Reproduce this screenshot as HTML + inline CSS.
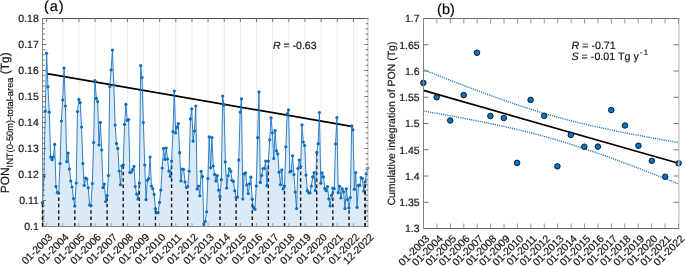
<!DOCTYPE html>
<html><head><meta charset="utf-8"><style>
html,body{margin:0;padding:0;background:#fff;width:685px;height:266px;overflow:hidden}
svg{will-change:transform;text-rendering:geometricPrecision}
text{stroke:#141414;stroke-width:0.18px}
</style></head><body>
<svg width="685" height="266" viewBox="0 0 685 266" style="display:block">
<rect width="685" height="266" fill="#fff"/>
<line x1="46.60" y1="18.5" x2="46.60" y2="226.5" stroke="#e9e9e9" stroke-width="0.9"/>
<line x1="62.75" y1="18.5" x2="62.75" y2="226.5" stroke="#e9e9e9" stroke-width="0.9"/>
<line x1="78.90" y1="18.5" x2="78.90" y2="226.5" stroke="#e9e9e9" stroke-width="0.9"/>
<line x1="95.05" y1="18.5" x2="95.05" y2="226.5" stroke="#e9e9e9" stroke-width="0.9"/>
<line x1="111.20" y1="18.5" x2="111.20" y2="226.5" stroke="#e9e9e9" stroke-width="0.9"/>
<line x1="127.35" y1="18.5" x2="127.35" y2="226.5" stroke="#e9e9e9" stroke-width="0.9"/>
<line x1="143.50" y1="18.5" x2="143.50" y2="226.5" stroke="#e9e9e9" stroke-width="0.9"/>
<line x1="159.65" y1="18.5" x2="159.65" y2="226.5" stroke="#e9e9e9" stroke-width="0.9"/>
<line x1="175.80" y1="18.5" x2="175.80" y2="226.5" stroke="#e9e9e9" stroke-width="0.9"/>
<line x1="191.95" y1="18.5" x2="191.95" y2="226.5" stroke="#e9e9e9" stroke-width="0.9"/>
<line x1="208.10" y1="18.5" x2="208.10" y2="226.5" stroke="#e9e9e9" stroke-width="0.9"/>
<line x1="224.25" y1="18.5" x2="224.25" y2="226.5" stroke="#e9e9e9" stroke-width="0.9"/>
<line x1="240.40" y1="18.5" x2="240.40" y2="226.5" stroke="#e9e9e9" stroke-width="0.9"/>
<line x1="256.55" y1="18.5" x2="256.55" y2="226.5" stroke="#e9e9e9" stroke-width="0.9"/>
<line x1="272.70" y1="18.5" x2="272.70" y2="226.5" stroke="#e9e9e9" stroke-width="0.9"/>
<line x1="288.85" y1="18.5" x2="288.85" y2="226.5" stroke="#e9e9e9" stroke-width="0.9"/>
<line x1="305.00" y1="18.5" x2="305.00" y2="226.5" stroke="#e9e9e9" stroke-width="0.9"/>
<line x1="321.15" y1="18.5" x2="321.15" y2="226.5" stroke="#e9e9e9" stroke-width="0.9"/>
<line x1="337.30" y1="18.5" x2="337.30" y2="226.5" stroke="#e9e9e9" stroke-width="0.9"/>
<line x1="353.45" y1="18.5" x2="353.45" y2="226.5" stroke="#e9e9e9" stroke-width="0.9"/>
<polygon points="42.57,226.5 42.57,202.60 43.91,176.50 45.26,111.00 46.60,53.30 47.94,86.80 49.29,112.20 50.63,157.00 51.98,159.60 53.32,157.00 54.66,144.40 56.01,186.60 57.35,192.60 58.70,193.00 60.04,163.60 61.38,121.00 62.73,100.00 64.07,68.00 65.42,106.00 66.76,161.60 68.10,153.00 69.45,169.00 70.79,181.00 72.14,187.00 73.48,198.60 74.82,206.00 76.17,183.00 77.51,111.60 78.86,99.40 80.20,102.60 81.54,127.00 82.89,163.60 84.23,185.30 85.58,178.00 86.92,179.00 88.26,187.80 89.61,205.00 90.95,205.60 92.30,183.60 93.64,142.40 94.98,80.60 96.33,98.40 97.67,101.60 99.02,145.00 100.36,122.40 101.70,150.00 103.05,187.60 104.39,184.00 105.74,201.60 107.08,195.60 108.42,175.60 109.77,86.60 111.11,70.00 112.46,50.00 113.80,85.00 115.14,125.00 116.49,143.60 117.83,148.40 119.18,171.00 120.52,184.70 121.86,166.00 123.21,165.00 124.55,124.40 125.90,104.40 127.24,120.40 128.58,119.60 129.93,172.40 131.27,172.00 132.62,169.60 133.96,166.40 135.30,186.50 136.65,194.00 137.99,199.00 139.34,183.00 140.68,65.60 142.02,77.60 143.37,122.60 144.71,165.00 146.06,199.60 147.40,180.30 148.74,178.60 150.09,157.00 151.43,186.00 152.78,188.70 154.12,194.40 155.46,208.60 156.81,213.00 158.15,212.60 159.50,202.40 160.84,190.00 162.18,168.00 163.53,148.40 164.87,159.40 166.22,148.00 167.56,159.00 168.90,171.00 170.25,176.40 171.59,161.00 172.94,131.60 174.28,91.00 175.62,133.00 176.97,127.20 178.31,123.70 179.66,152.70 181.00,181.00 182.34,169.00 183.69,169.50 185.03,182.00 186.38,187.50 187.72,186.50 189.06,171.20 190.41,118.90 191.75,108.90 193.10,141.10 194.44,131.00 195.78,106.00 197.13,189.00 198.47,186.00 199.82,195.80 201.16,171.30 202.50,176.70 203.85,224.00 205.19,221.50 206.54,211.80 207.88,178.60 209.22,136.80 210.57,167.80 211.91,137.50 213.26,166.00 214.60,174.40 215.94,180.90 217.29,175.60 218.63,190.20 219.98,196.40 221.32,179.70 222.66,96.00 224.01,105.00 225.35,161.80 226.70,188.10 228.04,175.60 229.38,168.80 230.73,171.30 232.07,180.30 233.42,181.40 234.76,190.80 236.10,197.50 237.45,197.10 238.79,159.90 240.14,112.00 241.48,98.90 242.82,199.00 244.17,173.80 245.51,172.90 246.86,184.90 248.20,193.60 249.54,183.80 250.89,177.20 252.23,199.20 253.58,207.70 254.92,209.30 256.26,186.00 257.61,137.70 258.95,91.90 260.30,182.40 261.64,175.30 262.98,168.60 264.33,168.50 265.67,161.00 267.02,185.70 268.36,161.00 269.70,139.80 271.05,117.80 272.39,132.80 273.74,158.50 275.08,130.70 276.42,150.80 277.77,153.80 279.11,172.20 280.46,184.60 281.80,169.90 283.14,188.90 284.49,186.10 285.83,146.80 287.18,113.80 288.52,109.90 289.86,172.00 291.21,171.00 292.55,155.80 293.90,174.50 295.24,192.00 296.58,208.60 297.93,168.60 299.27,160.00 300.62,166.60 301.96,124.90 303.30,142.00 304.65,145.50 305.99,175.10 307.34,190.70 308.68,192.80 310.02,192.80 311.37,186.00 312.71,176.90 314.06,172.50 315.40,190.50 316.74,152.40 318.09,143.70 319.43,112.50 320.78,183.20 322.12,172.90 323.46,176.80 324.81,188.60 326.15,190.70 327.50,186.70 328.84,198.80 330.18,205.90 331.53,195.40 332.87,188.20 334.22,188.70 335.56,143.90 336.90,117.60 338.25,192.70 339.59,186.30 340.94,198.00 342.28,188.90 343.62,191.80 344.97,208.60 346.31,188.90 347.66,199.50 349.00,207.90 350.34,197.50 351.69,125.80 353.03,129.80 354.38,189.30 355.72,172.50 357.06,207.30 358.41,185.40 359.75,185.40 361.10,177.50 362.44,178.60 363.78,191.00 365.13,181.80 366.47,173.70 367.82,168.00 367.82,226.5" fill="#dce9f7" stroke="none"/>
<line x1="42.57" y1="226.5" x2="42.57" y2="202.60" stroke="#111" stroke-width="1.4" stroke-dasharray="3.5,2.9"/>
<line x1="58.70" y1="226.5" x2="58.70" y2="193.00" stroke="#111" stroke-width="1.4" stroke-dasharray="3.5,2.9"/>
<line x1="74.82" y1="226.5" x2="74.82" y2="206.00" stroke="#111" stroke-width="1.4" stroke-dasharray="3.5,2.9"/>
<line x1="90.95" y1="226.5" x2="90.95" y2="205.60" stroke="#111" stroke-width="1.4" stroke-dasharray="3.5,2.9"/>
<line x1="107.08" y1="226.5" x2="107.08" y2="195.60" stroke="#111" stroke-width="1.4" stroke-dasharray="3.5,2.9"/>
<line x1="123.21" y1="226.5" x2="123.21" y2="165.00" stroke="#111" stroke-width="1.4" stroke-dasharray="3.5,2.9"/>
<line x1="139.34" y1="226.5" x2="139.34" y2="183.00" stroke="#111" stroke-width="1.4" stroke-dasharray="3.5,2.9"/>
<line x1="155.46" y1="226.5" x2="155.46" y2="208.60" stroke="#111" stroke-width="1.4" stroke-dasharray="3.5,2.9"/>
<line x1="171.59" y1="226.5" x2="171.59" y2="161.00" stroke="#111" stroke-width="1.4" stroke-dasharray="3.5,2.9"/>
<line x1="187.72" y1="226.5" x2="187.72" y2="186.50" stroke="#111" stroke-width="1.4" stroke-dasharray="3.5,2.9"/>
<line x1="203.85" y1="226.5" x2="203.85" y2="224.00" stroke="#111" stroke-width="1.4" stroke-dasharray="3.5,2.9"/>
<line x1="219.98" y1="226.5" x2="219.98" y2="196.40" stroke="#111" stroke-width="1.4" stroke-dasharray="3.5,2.9"/>
<line x1="236.10" y1="226.5" x2="236.10" y2="197.50" stroke="#111" stroke-width="1.4" stroke-dasharray="3.5,2.9"/>
<line x1="252.23" y1="226.5" x2="252.23" y2="199.20" stroke="#111" stroke-width="1.4" stroke-dasharray="3.5,2.9"/>
<line x1="268.36" y1="226.5" x2="268.36" y2="161.00" stroke="#111" stroke-width="1.4" stroke-dasharray="3.5,2.9"/>
<line x1="284.49" y1="226.5" x2="284.49" y2="186.10" stroke="#111" stroke-width="1.4" stroke-dasharray="3.5,2.9"/>
<line x1="300.62" y1="226.5" x2="300.62" y2="166.60" stroke="#111" stroke-width="1.4" stroke-dasharray="3.5,2.9"/>
<line x1="316.74" y1="226.5" x2="316.74" y2="152.40" stroke="#111" stroke-width="1.4" stroke-dasharray="3.5,2.9"/>
<line x1="332.87" y1="226.5" x2="332.87" y2="188.20" stroke="#111" stroke-width="1.4" stroke-dasharray="3.5,2.9"/>
<line x1="349.00" y1="226.5" x2="349.00" y2="207.90" stroke="#111" stroke-width="1.4" stroke-dasharray="3.5,2.9"/>
<line x1="365.13" y1="226.5" x2="365.13" y2="181.80" stroke="#111" stroke-width="1.4" stroke-dasharray="3.5,2.9"/>
<line x1="47" y1="73.7" x2="353" y2="126.6" stroke="#000" stroke-width="1.7"/>
<polyline points="42.57,202.60 43.91,176.50 45.26,111.00 46.60,53.30 47.94,86.80 49.29,112.20 50.63,157.00 51.98,159.60 53.32,157.00 54.66,144.40 56.01,186.60 57.35,192.60 58.70,193.00 60.04,163.60 61.38,121.00 62.73,100.00 64.07,68.00 65.42,106.00 66.76,161.60 68.10,153.00 69.45,169.00 70.79,181.00 72.14,187.00 73.48,198.60 74.82,206.00 76.17,183.00 77.51,111.60 78.86,99.40 80.20,102.60 81.54,127.00 82.89,163.60 84.23,185.30 85.58,178.00 86.92,179.00 88.26,187.80 89.61,205.00 90.95,205.60 92.30,183.60 93.64,142.40 94.98,80.60 96.33,98.40 97.67,101.60 99.02,145.00 100.36,122.40 101.70,150.00 103.05,187.60 104.39,184.00 105.74,201.60 107.08,195.60 108.42,175.60 109.77,86.60 111.11,70.00 112.46,50.00 113.80,85.00 115.14,125.00 116.49,143.60 117.83,148.40 119.18,171.00 120.52,184.70 121.86,166.00 123.21,165.00 124.55,124.40 125.90,104.40 127.24,120.40 128.58,119.60 129.93,172.40 131.27,172.00 132.62,169.60 133.96,166.40 135.30,186.50 136.65,194.00 137.99,199.00 139.34,183.00 140.68,65.60 142.02,77.60 143.37,122.60 144.71,165.00 146.06,199.60 147.40,180.30 148.74,178.60 150.09,157.00 151.43,186.00 152.78,188.70 154.12,194.40 155.46,208.60 156.81,213.00 158.15,212.60 159.50,202.40 160.84,190.00 162.18,168.00 163.53,148.40 164.87,159.40 166.22,148.00 167.56,159.00 168.90,171.00 170.25,176.40 171.59,161.00 172.94,131.60 174.28,91.00 175.62,133.00 176.97,127.20 178.31,123.70 179.66,152.70 181.00,181.00 182.34,169.00 183.69,169.50 185.03,182.00 186.38,187.50 187.72,186.50 189.06,171.20 190.41,118.90 191.75,108.90 193.10,141.10 194.44,131.00 195.78,106.00 197.13,189.00 198.47,186.00 199.82,195.80 201.16,171.30 202.50,176.70 203.85,224.00 205.19,221.50 206.54,211.80 207.88,178.60 209.22,136.80 210.57,167.80 211.91,137.50 213.26,166.00 214.60,174.40 215.94,180.90 217.29,175.60 218.63,190.20 219.98,196.40 221.32,179.70 222.66,96.00 224.01,105.00 225.35,161.80 226.70,188.10 228.04,175.60 229.38,168.80 230.73,171.30 232.07,180.30 233.42,181.40 234.76,190.80 236.10,197.50 237.45,197.10 238.79,159.90 240.14,112.00 241.48,98.90 242.82,199.00 244.17,173.80 245.51,172.90 246.86,184.90 248.20,193.60 249.54,183.80 250.89,177.20 252.23,199.20 253.58,207.70 254.92,209.30 256.26,186.00 257.61,137.70 258.95,91.90 260.30,182.40 261.64,175.30 262.98,168.60 264.33,168.50 265.67,161.00 267.02,185.70 268.36,161.00 269.70,139.80 271.05,117.80 272.39,132.80 273.74,158.50 275.08,130.70 276.42,150.80 277.77,153.80 279.11,172.20 280.46,184.60 281.80,169.90 283.14,188.90 284.49,186.10 285.83,146.80 287.18,113.80 288.52,109.90 289.86,172.00 291.21,171.00 292.55,155.80 293.90,174.50 295.24,192.00 296.58,208.60 297.93,168.60 299.27,160.00 300.62,166.60 301.96,124.90 303.30,142.00 304.65,145.50 305.99,175.10 307.34,190.70 308.68,192.80 310.02,192.80 311.37,186.00 312.71,176.90 314.06,172.50 315.40,190.50 316.74,152.40 318.09,143.70 319.43,112.50 320.78,183.20 322.12,172.90 323.46,176.80 324.81,188.60 326.15,190.70 327.50,186.70 328.84,198.80 330.18,205.90 331.53,195.40 332.87,188.20 334.22,188.70 335.56,143.90 336.90,117.60 338.25,192.70 339.59,186.30 340.94,198.00 342.28,188.90 343.62,191.80 344.97,208.60 346.31,188.90 347.66,199.50 349.00,207.90 350.34,197.50 351.69,125.80 353.03,129.80 354.38,189.30 355.72,172.50 357.06,207.30 358.41,185.40 359.75,185.40 361.10,177.50 362.44,178.60 363.78,191.00 365.13,181.80 366.47,173.70 367.82,168.00" fill="none" stroke="#1a74c0" stroke-width="0.9" stroke-linejoin="round"/>
<circle cx="42.57" cy="202.60" r="1.6" fill="#0b6fbd"/>
<circle cx="43.91" cy="176.50" r="1.6" fill="#0b6fbd"/>
<circle cx="45.26" cy="111.00" r="1.6" fill="#0b6fbd"/>
<circle cx="46.60" cy="53.30" r="1.6" fill="#0b6fbd"/>
<circle cx="47.94" cy="86.80" r="1.6" fill="#0b6fbd"/>
<circle cx="49.29" cy="112.20" r="1.6" fill="#0b6fbd"/>
<circle cx="50.63" cy="157.00" r="1.6" fill="#0b6fbd"/>
<circle cx="51.98" cy="159.60" r="1.6" fill="#0b6fbd"/>
<circle cx="53.32" cy="157.00" r="1.6" fill="#0b6fbd"/>
<circle cx="54.66" cy="144.40" r="1.6" fill="#0b6fbd"/>
<circle cx="56.01" cy="186.60" r="1.6" fill="#0b6fbd"/>
<circle cx="57.35" cy="192.60" r="1.6" fill="#0b6fbd"/>
<circle cx="58.70" cy="193.00" r="1.6" fill="#0b6fbd"/>
<circle cx="60.04" cy="163.60" r="1.6" fill="#0b6fbd"/>
<circle cx="61.38" cy="121.00" r="1.6" fill="#0b6fbd"/>
<circle cx="62.73" cy="100.00" r="1.6" fill="#0b6fbd"/>
<circle cx="64.07" cy="68.00" r="1.6" fill="#0b6fbd"/>
<circle cx="65.42" cy="106.00" r="1.6" fill="#0b6fbd"/>
<circle cx="66.76" cy="161.60" r="1.6" fill="#0b6fbd"/>
<circle cx="68.10" cy="153.00" r="1.6" fill="#0b6fbd"/>
<circle cx="69.45" cy="169.00" r="1.6" fill="#0b6fbd"/>
<circle cx="70.79" cy="181.00" r="1.6" fill="#0b6fbd"/>
<circle cx="72.14" cy="187.00" r="1.6" fill="#0b6fbd"/>
<circle cx="73.48" cy="198.60" r="1.6" fill="#0b6fbd"/>
<circle cx="74.82" cy="206.00" r="1.6" fill="#0b6fbd"/>
<circle cx="76.17" cy="183.00" r="1.6" fill="#0b6fbd"/>
<circle cx="77.51" cy="111.60" r="1.6" fill="#0b6fbd"/>
<circle cx="78.86" cy="99.40" r="1.6" fill="#0b6fbd"/>
<circle cx="80.20" cy="102.60" r="1.6" fill="#0b6fbd"/>
<circle cx="81.54" cy="127.00" r="1.6" fill="#0b6fbd"/>
<circle cx="82.89" cy="163.60" r="1.6" fill="#0b6fbd"/>
<circle cx="84.23" cy="185.30" r="1.6" fill="#0b6fbd"/>
<circle cx="85.58" cy="178.00" r="1.6" fill="#0b6fbd"/>
<circle cx="86.92" cy="179.00" r="1.6" fill="#0b6fbd"/>
<circle cx="88.26" cy="187.80" r="1.6" fill="#0b6fbd"/>
<circle cx="89.61" cy="205.00" r="1.6" fill="#0b6fbd"/>
<circle cx="90.95" cy="205.60" r="1.6" fill="#0b6fbd"/>
<circle cx="92.30" cy="183.60" r="1.6" fill="#0b6fbd"/>
<circle cx="93.64" cy="142.40" r="1.6" fill="#0b6fbd"/>
<circle cx="94.98" cy="80.60" r="1.6" fill="#0b6fbd"/>
<circle cx="96.33" cy="98.40" r="1.6" fill="#0b6fbd"/>
<circle cx="97.67" cy="101.60" r="1.6" fill="#0b6fbd"/>
<circle cx="99.02" cy="145.00" r="1.6" fill="#0b6fbd"/>
<circle cx="100.36" cy="122.40" r="1.6" fill="#0b6fbd"/>
<circle cx="101.70" cy="150.00" r="1.6" fill="#0b6fbd"/>
<circle cx="103.05" cy="187.60" r="1.6" fill="#0b6fbd"/>
<circle cx="104.39" cy="184.00" r="1.6" fill="#0b6fbd"/>
<circle cx="105.74" cy="201.60" r="1.6" fill="#0b6fbd"/>
<circle cx="107.08" cy="195.60" r="1.6" fill="#0b6fbd"/>
<circle cx="108.42" cy="175.60" r="1.6" fill="#0b6fbd"/>
<circle cx="109.77" cy="86.60" r="1.6" fill="#0b6fbd"/>
<circle cx="111.11" cy="70.00" r="1.6" fill="#0b6fbd"/>
<circle cx="112.46" cy="50.00" r="1.6" fill="#0b6fbd"/>
<circle cx="113.80" cy="85.00" r="1.6" fill="#0b6fbd"/>
<circle cx="115.14" cy="125.00" r="1.6" fill="#0b6fbd"/>
<circle cx="116.49" cy="143.60" r="1.6" fill="#0b6fbd"/>
<circle cx="117.83" cy="148.40" r="1.6" fill="#0b6fbd"/>
<circle cx="119.18" cy="171.00" r="1.6" fill="#0b6fbd"/>
<circle cx="120.52" cy="184.70" r="1.6" fill="#0b6fbd"/>
<circle cx="121.86" cy="166.00" r="1.6" fill="#0b6fbd"/>
<circle cx="123.21" cy="165.00" r="1.6" fill="#0b6fbd"/>
<circle cx="124.55" cy="124.40" r="1.6" fill="#0b6fbd"/>
<circle cx="125.90" cy="104.40" r="1.6" fill="#0b6fbd"/>
<circle cx="127.24" cy="120.40" r="1.6" fill="#0b6fbd"/>
<circle cx="128.58" cy="119.60" r="1.6" fill="#0b6fbd"/>
<circle cx="129.93" cy="172.40" r="1.6" fill="#0b6fbd"/>
<circle cx="131.27" cy="172.00" r="1.6" fill="#0b6fbd"/>
<circle cx="132.62" cy="169.60" r="1.6" fill="#0b6fbd"/>
<circle cx="133.96" cy="166.40" r="1.6" fill="#0b6fbd"/>
<circle cx="135.30" cy="186.50" r="1.6" fill="#0b6fbd"/>
<circle cx="136.65" cy="194.00" r="1.6" fill="#0b6fbd"/>
<circle cx="137.99" cy="199.00" r="1.6" fill="#0b6fbd"/>
<circle cx="139.34" cy="183.00" r="1.6" fill="#0b6fbd"/>
<circle cx="140.68" cy="65.60" r="1.6" fill="#0b6fbd"/>
<circle cx="142.02" cy="77.60" r="1.6" fill="#0b6fbd"/>
<circle cx="143.37" cy="122.60" r="1.6" fill="#0b6fbd"/>
<circle cx="144.71" cy="165.00" r="1.6" fill="#0b6fbd"/>
<circle cx="146.06" cy="199.60" r="1.6" fill="#0b6fbd"/>
<circle cx="147.40" cy="180.30" r="1.6" fill="#0b6fbd"/>
<circle cx="148.74" cy="178.60" r="1.6" fill="#0b6fbd"/>
<circle cx="150.09" cy="157.00" r="1.6" fill="#0b6fbd"/>
<circle cx="151.43" cy="186.00" r="1.6" fill="#0b6fbd"/>
<circle cx="152.78" cy="188.70" r="1.6" fill="#0b6fbd"/>
<circle cx="154.12" cy="194.40" r="1.6" fill="#0b6fbd"/>
<circle cx="155.46" cy="208.60" r="1.6" fill="#0b6fbd"/>
<circle cx="156.81" cy="213.00" r="1.6" fill="#0b6fbd"/>
<circle cx="158.15" cy="212.60" r="1.6" fill="#0b6fbd"/>
<circle cx="159.50" cy="202.40" r="1.6" fill="#0b6fbd"/>
<circle cx="160.84" cy="190.00" r="1.6" fill="#0b6fbd"/>
<circle cx="162.18" cy="168.00" r="1.6" fill="#0b6fbd"/>
<circle cx="163.53" cy="148.40" r="1.6" fill="#0b6fbd"/>
<circle cx="164.87" cy="159.40" r="1.6" fill="#0b6fbd"/>
<circle cx="166.22" cy="148.00" r="1.6" fill="#0b6fbd"/>
<circle cx="167.56" cy="159.00" r="1.6" fill="#0b6fbd"/>
<circle cx="168.90" cy="171.00" r="1.6" fill="#0b6fbd"/>
<circle cx="170.25" cy="176.40" r="1.6" fill="#0b6fbd"/>
<circle cx="171.59" cy="161.00" r="1.6" fill="#0b6fbd"/>
<circle cx="172.94" cy="131.60" r="1.6" fill="#0b6fbd"/>
<circle cx="174.28" cy="91.00" r="1.6" fill="#0b6fbd"/>
<circle cx="175.62" cy="133.00" r="1.6" fill="#0b6fbd"/>
<circle cx="176.97" cy="127.20" r="1.6" fill="#0b6fbd"/>
<circle cx="178.31" cy="123.70" r="1.6" fill="#0b6fbd"/>
<circle cx="179.66" cy="152.70" r="1.6" fill="#0b6fbd"/>
<circle cx="181.00" cy="181.00" r="1.6" fill="#0b6fbd"/>
<circle cx="182.34" cy="169.00" r="1.6" fill="#0b6fbd"/>
<circle cx="183.69" cy="169.50" r="1.6" fill="#0b6fbd"/>
<circle cx="185.03" cy="182.00" r="1.6" fill="#0b6fbd"/>
<circle cx="186.38" cy="187.50" r="1.6" fill="#0b6fbd"/>
<circle cx="187.72" cy="186.50" r="1.6" fill="#0b6fbd"/>
<circle cx="189.06" cy="171.20" r="1.6" fill="#0b6fbd"/>
<circle cx="190.41" cy="118.90" r="1.6" fill="#0b6fbd"/>
<circle cx="191.75" cy="108.90" r="1.6" fill="#0b6fbd"/>
<circle cx="193.10" cy="141.10" r="1.6" fill="#0b6fbd"/>
<circle cx="194.44" cy="131.00" r="1.6" fill="#0b6fbd"/>
<circle cx="195.78" cy="106.00" r="1.6" fill="#0b6fbd"/>
<circle cx="197.13" cy="189.00" r="1.6" fill="#0b6fbd"/>
<circle cx="198.47" cy="186.00" r="1.6" fill="#0b6fbd"/>
<circle cx="199.82" cy="195.80" r="1.6" fill="#0b6fbd"/>
<circle cx="201.16" cy="171.30" r="1.6" fill="#0b6fbd"/>
<circle cx="202.50" cy="176.70" r="1.6" fill="#0b6fbd"/>
<circle cx="203.85" cy="224.00" r="1.6" fill="#0b6fbd"/>
<circle cx="205.19" cy="221.50" r="1.6" fill="#0b6fbd"/>
<circle cx="206.54" cy="211.80" r="1.6" fill="#0b6fbd"/>
<circle cx="207.88" cy="178.60" r="1.6" fill="#0b6fbd"/>
<circle cx="209.22" cy="136.80" r="1.6" fill="#0b6fbd"/>
<circle cx="210.57" cy="167.80" r="1.6" fill="#0b6fbd"/>
<circle cx="211.91" cy="137.50" r="1.6" fill="#0b6fbd"/>
<circle cx="213.26" cy="166.00" r="1.6" fill="#0b6fbd"/>
<circle cx="214.60" cy="174.40" r="1.6" fill="#0b6fbd"/>
<circle cx="215.94" cy="180.90" r="1.6" fill="#0b6fbd"/>
<circle cx="217.29" cy="175.60" r="1.6" fill="#0b6fbd"/>
<circle cx="218.63" cy="190.20" r="1.6" fill="#0b6fbd"/>
<circle cx="219.98" cy="196.40" r="1.6" fill="#0b6fbd"/>
<circle cx="221.32" cy="179.70" r="1.6" fill="#0b6fbd"/>
<circle cx="222.66" cy="96.00" r="1.6" fill="#0b6fbd"/>
<circle cx="224.01" cy="105.00" r="1.6" fill="#0b6fbd"/>
<circle cx="225.35" cy="161.80" r="1.6" fill="#0b6fbd"/>
<circle cx="226.70" cy="188.10" r="1.6" fill="#0b6fbd"/>
<circle cx="228.04" cy="175.60" r="1.6" fill="#0b6fbd"/>
<circle cx="229.38" cy="168.80" r="1.6" fill="#0b6fbd"/>
<circle cx="230.73" cy="171.30" r="1.6" fill="#0b6fbd"/>
<circle cx="232.07" cy="180.30" r="1.6" fill="#0b6fbd"/>
<circle cx="233.42" cy="181.40" r="1.6" fill="#0b6fbd"/>
<circle cx="234.76" cy="190.80" r="1.6" fill="#0b6fbd"/>
<circle cx="236.10" cy="197.50" r="1.6" fill="#0b6fbd"/>
<circle cx="237.45" cy="197.10" r="1.6" fill="#0b6fbd"/>
<circle cx="238.79" cy="159.90" r="1.6" fill="#0b6fbd"/>
<circle cx="240.14" cy="112.00" r="1.6" fill="#0b6fbd"/>
<circle cx="241.48" cy="98.90" r="1.6" fill="#0b6fbd"/>
<circle cx="242.82" cy="199.00" r="1.6" fill="#0b6fbd"/>
<circle cx="244.17" cy="173.80" r="1.6" fill="#0b6fbd"/>
<circle cx="245.51" cy="172.90" r="1.6" fill="#0b6fbd"/>
<circle cx="246.86" cy="184.90" r="1.6" fill="#0b6fbd"/>
<circle cx="248.20" cy="193.60" r="1.6" fill="#0b6fbd"/>
<circle cx="249.54" cy="183.80" r="1.6" fill="#0b6fbd"/>
<circle cx="250.89" cy="177.20" r="1.6" fill="#0b6fbd"/>
<circle cx="252.23" cy="199.20" r="1.6" fill="#0b6fbd"/>
<circle cx="253.58" cy="207.70" r="1.6" fill="#0b6fbd"/>
<circle cx="254.92" cy="209.30" r="1.6" fill="#0b6fbd"/>
<circle cx="256.26" cy="186.00" r="1.6" fill="#0b6fbd"/>
<circle cx="257.61" cy="137.70" r="1.6" fill="#0b6fbd"/>
<circle cx="258.95" cy="91.90" r="1.6" fill="#0b6fbd"/>
<circle cx="260.30" cy="182.40" r="1.6" fill="#0b6fbd"/>
<circle cx="261.64" cy="175.30" r="1.6" fill="#0b6fbd"/>
<circle cx="262.98" cy="168.60" r="1.6" fill="#0b6fbd"/>
<circle cx="264.33" cy="168.50" r="1.6" fill="#0b6fbd"/>
<circle cx="265.67" cy="161.00" r="1.6" fill="#0b6fbd"/>
<circle cx="267.02" cy="185.70" r="1.6" fill="#0b6fbd"/>
<circle cx="268.36" cy="161.00" r="1.6" fill="#0b6fbd"/>
<circle cx="269.70" cy="139.80" r="1.6" fill="#0b6fbd"/>
<circle cx="271.05" cy="117.80" r="1.6" fill="#0b6fbd"/>
<circle cx="272.39" cy="132.80" r="1.6" fill="#0b6fbd"/>
<circle cx="273.74" cy="158.50" r="1.6" fill="#0b6fbd"/>
<circle cx="275.08" cy="130.70" r="1.6" fill="#0b6fbd"/>
<circle cx="276.42" cy="150.80" r="1.6" fill="#0b6fbd"/>
<circle cx="277.77" cy="153.80" r="1.6" fill="#0b6fbd"/>
<circle cx="279.11" cy="172.20" r="1.6" fill="#0b6fbd"/>
<circle cx="280.46" cy="184.60" r="1.6" fill="#0b6fbd"/>
<circle cx="281.80" cy="169.90" r="1.6" fill="#0b6fbd"/>
<circle cx="283.14" cy="188.90" r="1.6" fill="#0b6fbd"/>
<circle cx="284.49" cy="186.10" r="1.6" fill="#0b6fbd"/>
<circle cx="285.83" cy="146.80" r="1.6" fill="#0b6fbd"/>
<circle cx="287.18" cy="113.80" r="1.6" fill="#0b6fbd"/>
<circle cx="288.52" cy="109.90" r="1.6" fill="#0b6fbd"/>
<circle cx="289.86" cy="172.00" r="1.6" fill="#0b6fbd"/>
<circle cx="291.21" cy="171.00" r="1.6" fill="#0b6fbd"/>
<circle cx="292.55" cy="155.80" r="1.6" fill="#0b6fbd"/>
<circle cx="293.90" cy="174.50" r="1.6" fill="#0b6fbd"/>
<circle cx="295.24" cy="192.00" r="1.6" fill="#0b6fbd"/>
<circle cx="296.58" cy="208.60" r="1.6" fill="#0b6fbd"/>
<circle cx="297.93" cy="168.60" r="1.6" fill="#0b6fbd"/>
<circle cx="299.27" cy="160.00" r="1.6" fill="#0b6fbd"/>
<circle cx="300.62" cy="166.60" r="1.6" fill="#0b6fbd"/>
<circle cx="301.96" cy="124.90" r="1.6" fill="#0b6fbd"/>
<circle cx="303.30" cy="142.00" r="1.6" fill="#0b6fbd"/>
<circle cx="304.65" cy="145.50" r="1.6" fill="#0b6fbd"/>
<circle cx="305.99" cy="175.10" r="1.6" fill="#0b6fbd"/>
<circle cx="307.34" cy="190.70" r="1.6" fill="#0b6fbd"/>
<circle cx="308.68" cy="192.80" r="1.6" fill="#0b6fbd"/>
<circle cx="310.02" cy="192.80" r="1.6" fill="#0b6fbd"/>
<circle cx="311.37" cy="186.00" r="1.6" fill="#0b6fbd"/>
<circle cx="312.71" cy="176.90" r="1.6" fill="#0b6fbd"/>
<circle cx="314.06" cy="172.50" r="1.6" fill="#0b6fbd"/>
<circle cx="315.40" cy="190.50" r="1.6" fill="#0b6fbd"/>
<circle cx="316.74" cy="152.40" r="1.6" fill="#0b6fbd"/>
<circle cx="318.09" cy="143.70" r="1.6" fill="#0b6fbd"/>
<circle cx="319.43" cy="112.50" r="1.6" fill="#0b6fbd"/>
<circle cx="320.78" cy="183.20" r="1.6" fill="#0b6fbd"/>
<circle cx="322.12" cy="172.90" r="1.6" fill="#0b6fbd"/>
<circle cx="323.46" cy="176.80" r="1.6" fill="#0b6fbd"/>
<circle cx="324.81" cy="188.60" r="1.6" fill="#0b6fbd"/>
<circle cx="326.15" cy="190.70" r="1.6" fill="#0b6fbd"/>
<circle cx="327.50" cy="186.70" r="1.6" fill="#0b6fbd"/>
<circle cx="328.84" cy="198.80" r="1.6" fill="#0b6fbd"/>
<circle cx="330.18" cy="205.90" r="1.6" fill="#0b6fbd"/>
<circle cx="331.53" cy="195.40" r="1.6" fill="#0b6fbd"/>
<circle cx="332.87" cy="188.20" r="1.6" fill="#0b6fbd"/>
<circle cx="334.22" cy="188.70" r="1.6" fill="#0b6fbd"/>
<circle cx="335.56" cy="143.90" r="1.6" fill="#0b6fbd"/>
<circle cx="336.90" cy="117.60" r="1.6" fill="#0b6fbd"/>
<circle cx="338.25" cy="192.70" r="1.6" fill="#0b6fbd"/>
<circle cx="339.59" cy="186.30" r="1.6" fill="#0b6fbd"/>
<circle cx="340.94" cy="198.00" r="1.6" fill="#0b6fbd"/>
<circle cx="342.28" cy="188.90" r="1.6" fill="#0b6fbd"/>
<circle cx="343.62" cy="191.80" r="1.6" fill="#0b6fbd"/>
<circle cx="344.97" cy="208.60" r="1.6" fill="#0b6fbd"/>
<circle cx="346.31" cy="188.90" r="1.6" fill="#0b6fbd"/>
<circle cx="347.66" cy="199.50" r="1.6" fill="#0b6fbd"/>
<circle cx="349.00" cy="207.90" r="1.6" fill="#0b6fbd"/>
<circle cx="350.34" cy="197.50" r="1.6" fill="#0b6fbd"/>
<circle cx="351.69" cy="125.80" r="1.6" fill="#0b6fbd"/>
<circle cx="353.03" cy="129.80" r="1.6" fill="#0b6fbd"/>
<circle cx="354.38" cy="189.30" r="1.6" fill="#0b6fbd"/>
<circle cx="355.72" cy="172.50" r="1.6" fill="#0b6fbd"/>
<circle cx="357.06" cy="207.30" r="1.6" fill="#0b6fbd"/>
<circle cx="358.41" cy="185.40" r="1.6" fill="#0b6fbd"/>
<circle cx="359.75" cy="185.40" r="1.6" fill="#0b6fbd"/>
<circle cx="361.10" cy="177.50" r="1.6" fill="#0b6fbd"/>
<circle cx="362.44" cy="178.60" r="1.6" fill="#0b6fbd"/>
<circle cx="363.78" cy="191.00" r="1.6" fill="#0b6fbd"/>
<circle cx="365.13" cy="181.80" r="1.6" fill="#0b6fbd"/>
<circle cx="366.47" cy="173.70" r="1.6" fill="#0b6fbd"/>
<circle cx="367.82" cy="168.00" r="1.6" fill="#0b6fbd"/>
<line x1="42.0" y1="18.5" x2="368.5" y2="18.5" stroke="#505050" stroke-width="1"/>
<line x1="42.0" y1="226.5" x2="368.5" y2="226.5" stroke="#8a8a8a" stroke-width="1"/>
<line x1="42.5" y1="18.5" x2="42.5" y2="226.5" stroke="#8a8a8a" stroke-width="1"/>
<line x1="367.9" y1="18.5" x2="367.9" y2="226.5" stroke="#c4c4c4" stroke-width="1.2"/>
<line x1="42.57" y1="226.5" x2="42.57" y2="202.60" stroke="#111" stroke-width="1.4" stroke-dasharray="3.5,2.9"/>
<line x1="365.13" y1="226.5" x2="365.13" y2="181.80" stroke="#111" stroke-width="1.4" stroke-dasharray="3.5,2.9"/>
<circle cx="42.57" cy="202.60" r="1.6" fill="#0b6fbd"/>
<line x1="42.5" y1="226.50" x2="46.1" y2="226.50" stroke="#666" stroke-width="0.9"/>
<line x1="368" y1="226.50" x2="364.4" y2="226.50" stroke="#666" stroke-width="0.9"/>
<line x1="42.5" y1="221.30" x2="44.9" y2="221.30" stroke="#666" stroke-width="0.9"/>
<line x1="368" y1="221.30" x2="365.6" y2="221.30" stroke="#666" stroke-width="0.9"/>
<line x1="42.5" y1="216.10" x2="44.9" y2="216.10" stroke="#666" stroke-width="0.9"/>
<line x1="368" y1="216.10" x2="365.6" y2="216.10" stroke="#666" stroke-width="0.9"/>
<line x1="42.5" y1="210.90" x2="44.9" y2="210.90" stroke="#666" stroke-width="0.9"/>
<line x1="368" y1="210.90" x2="365.6" y2="210.90" stroke="#666" stroke-width="0.9"/>
<line x1="42.5" y1="205.70" x2="44.9" y2="205.70" stroke="#666" stroke-width="0.9"/>
<line x1="368" y1="205.70" x2="365.6" y2="205.70" stroke="#666" stroke-width="0.9"/>
<line x1="42.5" y1="200.50" x2="46.1" y2="200.50" stroke="#666" stroke-width="0.9"/>
<line x1="368" y1="200.50" x2="364.4" y2="200.50" stroke="#666" stroke-width="0.9"/>
<line x1="42.5" y1="195.30" x2="44.9" y2="195.30" stroke="#666" stroke-width="0.9"/>
<line x1="368" y1="195.30" x2="365.6" y2="195.30" stroke="#666" stroke-width="0.9"/>
<line x1="42.5" y1="190.10" x2="44.9" y2="190.10" stroke="#666" stroke-width="0.9"/>
<line x1="368" y1="190.10" x2="365.6" y2="190.10" stroke="#666" stroke-width="0.9"/>
<line x1="42.5" y1="184.90" x2="44.9" y2="184.90" stroke="#666" stroke-width="0.9"/>
<line x1="368" y1="184.90" x2="365.6" y2="184.90" stroke="#666" stroke-width="0.9"/>
<line x1="42.5" y1="179.70" x2="44.9" y2="179.70" stroke="#666" stroke-width="0.9"/>
<line x1="368" y1="179.70" x2="365.6" y2="179.70" stroke="#666" stroke-width="0.9"/>
<line x1="42.5" y1="174.50" x2="46.1" y2="174.50" stroke="#666" stroke-width="0.9"/>
<line x1="368" y1="174.50" x2="364.4" y2="174.50" stroke="#666" stroke-width="0.9"/>
<line x1="42.5" y1="169.30" x2="44.9" y2="169.30" stroke="#666" stroke-width="0.9"/>
<line x1="368" y1="169.30" x2="365.6" y2="169.30" stroke="#666" stroke-width="0.9"/>
<line x1="42.5" y1="164.10" x2="44.9" y2="164.10" stroke="#666" stroke-width="0.9"/>
<line x1="368" y1="164.10" x2="365.6" y2="164.10" stroke="#666" stroke-width="0.9"/>
<line x1="42.5" y1="158.90" x2="44.9" y2="158.90" stroke="#666" stroke-width="0.9"/>
<line x1="368" y1="158.90" x2="365.6" y2="158.90" stroke="#666" stroke-width="0.9"/>
<line x1="42.5" y1="153.70" x2="44.9" y2="153.70" stroke="#666" stroke-width="0.9"/>
<line x1="368" y1="153.70" x2="365.6" y2="153.70" stroke="#666" stroke-width="0.9"/>
<line x1="42.5" y1="148.50" x2="46.1" y2="148.50" stroke="#666" stroke-width="0.9"/>
<line x1="368" y1="148.50" x2="364.4" y2="148.50" stroke="#666" stroke-width="0.9"/>
<line x1="42.5" y1="143.30" x2="44.9" y2="143.30" stroke="#666" stroke-width="0.9"/>
<line x1="368" y1="143.30" x2="365.6" y2="143.30" stroke="#666" stroke-width="0.9"/>
<line x1="42.5" y1="138.10" x2="44.9" y2="138.10" stroke="#666" stroke-width="0.9"/>
<line x1="368" y1="138.10" x2="365.6" y2="138.10" stroke="#666" stroke-width="0.9"/>
<line x1="42.5" y1="132.90" x2="44.9" y2="132.90" stroke="#666" stroke-width="0.9"/>
<line x1="368" y1="132.90" x2="365.6" y2="132.90" stroke="#666" stroke-width="0.9"/>
<line x1="42.5" y1="127.70" x2="44.9" y2="127.70" stroke="#666" stroke-width="0.9"/>
<line x1="368" y1="127.70" x2="365.6" y2="127.70" stroke="#666" stroke-width="0.9"/>
<line x1="42.5" y1="122.50" x2="46.1" y2="122.50" stroke="#666" stroke-width="0.9"/>
<line x1="368" y1="122.50" x2="364.4" y2="122.50" stroke="#666" stroke-width="0.9"/>
<line x1="42.5" y1="117.30" x2="44.9" y2="117.30" stroke="#666" stroke-width="0.9"/>
<line x1="368" y1="117.30" x2="365.6" y2="117.30" stroke="#666" stroke-width="0.9"/>
<line x1="42.5" y1="112.10" x2="44.9" y2="112.10" stroke="#666" stroke-width="0.9"/>
<line x1="368" y1="112.10" x2="365.6" y2="112.10" stroke="#666" stroke-width="0.9"/>
<line x1="42.5" y1="106.90" x2="44.9" y2="106.90" stroke="#666" stroke-width="0.9"/>
<line x1="368" y1="106.90" x2="365.6" y2="106.90" stroke="#666" stroke-width="0.9"/>
<line x1="42.5" y1="101.70" x2="44.9" y2="101.70" stroke="#666" stroke-width="0.9"/>
<line x1="368" y1="101.70" x2="365.6" y2="101.70" stroke="#666" stroke-width="0.9"/>
<line x1="42.5" y1="96.50" x2="46.1" y2="96.50" stroke="#666" stroke-width="0.9"/>
<line x1="368" y1="96.50" x2="364.4" y2="96.50" stroke="#666" stroke-width="0.9"/>
<line x1="42.5" y1="91.30" x2="44.9" y2="91.30" stroke="#666" stroke-width="0.9"/>
<line x1="368" y1="91.30" x2="365.6" y2="91.30" stroke="#666" stroke-width="0.9"/>
<line x1="42.5" y1="86.10" x2="44.9" y2="86.10" stroke="#666" stroke-width="0.9"/>
<line x1="368" y1="86.10" x2="365.6" y2="86.10" stroke="#666" stroke-width="0.9"/>
<line x1="42.5" y1="80.90" x2="44.9" y2="80.90" stroke="#666" stroke-width="0.9"/>
<line x1="368" y1="80.90" x2="365.6" y2="80.90" stroke="#666" stroke-width="0.9"/>
<line x1="42.5" y1="75.70" x2="44.9" y2="75.70" stroke="#666" stroke-width="0.9"/>
<line x1="368" y1="75.70" x2="365.6" y2="75.70" stroke="#666" stroke-width="0.9"/>
<line x1="42.5" y1="70.50" x2="46.1" y2="70.50" stroke="#666" stroke-width="0.9"/>
<line x1="368" y1="70.50" x2="364.4" y2="70.50" stroke="#666" stroke-width="0.9"/>
<line x1="42.5" y1="65.30" x2="44.9" y2="65.30" stroke="#666" stroke-width="0.9"/>
<line x1="368" y1="65.30" x2="365.6" y2="65.30" stroke="#666" stroke-width="0.9"/>
<line x1="42.5" y1="60.10" x2="44.9" y2="60.10" stroke="#666" stroke-width="0.9"/>
<line x1="368" y1="60.10" x2="365.6" y2="60.10" stroke="#666" stroke-width="0.9"/>
<line x1="42.5" y1="54.90" x2="44.9" y2="54.90" stroke="#666" stroke-width="0.9"/>
<line x1="368" y1="54.90" x2="365.6" y2="54.90" stroke="#666" stroke-width="0.9"/>
<line x1="42.5" y1="49.70" x2="44.9" y2="49.70" stroke="#666" stroke-width="0.9"/>
<line x1="368" y1="49.70" x2="365.6" y2="49.70" stroke="#666" stroke-width="0.9"/>
<line x1="42.5" y1="44.50" x2="46.1" y2="44.50" stroke="#666" stroke-width="0.9"/>
<line x1="368" y1="44.50" x2="364.4" y2="44.50" stroke="#666" stroke-width="0.9"/>
<line x1="42.5" y1="39.30" x2="44.9" y2="39.30" stroke="#666" stroke-width="0.9"/>
<line x1="368" y1="39.30" x2="365.6" y2="39.30" stroke="#666" stroke-width="0.9"/>
<line x1="42.5" y1="34.10" x2="44.9" y2="34.10" stroke="#666" stroke-width="0.9"/>
<line x1="368" y1="34.10" x2="365.6" y2="34.10" stroke="#666" stroke-width="0.9"/>
<line x1="42.5" y1="28.90" x2="44.9" y2="28.90" stroke="#666" stroke-width="0.9"/>
<line x1="368" y1="28.90" x2="365.6" y2="28.90" stroke="#666" stroke-width="0.9"/>
<line x1="42.5" y1="23.70" x2="44.9" y2="23.70" stroke="#666" stroke-width="0.9"/>
<line x1="368" y1="23.70" x2="365.6" y2="23.70" stroke="#666" stroke-width="0.9"/>
<line x1="42.5" y1="18.50" x2="46.1" y2="18.50" stroke="#666" stroke-width="0.9"/>
<line x1="368" y1="18.50" x2="364.4" y2="18.50" stroke="#666" stroke-width="0.9"/>
<line x1="46.60" y1="18.5" x2="46.60" y2="22.0" stroke="#666" stroke-width="0.9"/>
<line x1="46.60" y1="226.5" x2="46.60" y2="223.0" stroke="#999" stroke-width="0.9"/>
<line x1="62.75" y1="18.5" x2="62.75" y2="22.0" stroke="#666" stroke-width="0.9"/>
<line x1="62.75" y1="226.5" x2="62.75" y2="223.0" stroke="#999" stroke-width="0.9"/>
<line x1="78.90" y1="18.5" x2="78.90" y2="22.0" stroke="#666" stroke-width="0.9"/>
<line x1="78.90" y1="226.5" x2="78.90" y2="223.0" stroke="#999" stroke-width="0.9"/>
<line x1="95.05" y1="18.5" x2="95.05" y2="22.0" stroke="#666" stroke-width="0.9"/>
<line x1="95.05" y1="226.5" x2="95.05" y2="223.0" stroke="#999" stroke-width="0.9"/>
<line x1="111.20" y1="18.5" x2="111.20" y2="22.0" stroke="#666" stroke-width="0.9"/>
<line x1="111.20" y1="226.5" x2="111.20" y2="223.0" stroke="#999" stroke-width="0.9"/>
<line x1="127.35" y1="18.5" x2="127.35" y2="22.0" stroke="#666" stroke-width="0.9"/>
<line x1="127.35" y1="226.5" x2="127.35" y2="223.0" stroke="#999" stroke-width="0.9"/>
<line x1="143.50" y1="18.5" x2="143.50" y2="22.0" stroke="#666" stroke-width="0.9"/>
<line x1="143.50" y1="226.5" x2="143.50" y2="223.0" stroke="#999" stroke-width="0.9"/>
<line x1="159.65" y1="18.5" x2="159.65" y2="22.0" stroke="#666" stroke-width="0.9"/>
<line x1="159.65" y1="226.5" x2="159.65" y2="223.0" stroke="#999" stroke-width="0.9"/>
<line x1="175.80" y1="18.5" x2="175.80" y2="22.0" stroke="#666" stroke-width="0.9"/>
<line x1="175.80" y1="226.5" x2="175.80" y2="223.0" stroke="#999" stroke-width="0.9"/>
<line x1="191.95" y1="18.5" x2="191.95" y2="22.0" stroke="#666" stroke-width="0.9"/>
<line x1="191.95" y1="226.5" x2="191.95" y2="223.0" stroke="#999" stroke-width="0.9"/>
<line x1="208.10" y1="18.5" x2="208.10" y2="22.0" stroke="#666" stroke-width="0.9"/>
<line x1="208.10" y1="226.5" x2="208.10" y2="223.0" stroke="#999" stroke-width="0.9"/>
<line x1="224.25" y1="18.5" x2="224.25" y2="22.0" stroke="#666" stroke-width="0.9"/>
<line x1="224.25" y1="226.5" x2="224.25" y2="223.0" stroke="#999" stroke-width="0.9"/>
<line x1="240.40" y1="18.5" x2="240.40" y2="22.0" stroke="#666" stroke-width="0.9"/>
<line x1="240.40" y1="226.5" x2="240.40" y2="223.0" stroke="#999" stroke-width="0.9"/>
<line x1="256.55" y1="18.5" x2="256.55" y2="22.0" stroke="#666" stroke-width="0.9"/>
<line x1="256.55" y1="226.5" x2="256.55" y2="223.0" stroke="#999" stroke-width="0.9"/>
<line x1="272.70" y1="18.5" x2="272.70" y2="22.0" stroke="#666" stroke-width="0.9"/>
<line x1="272.70" y1="226.5" x2="272.70" y2="223.0" stroke="#999" stroke-width="0.9"/>
<line x1="288.85" y1="18.5" x2="288.85" y2="22.0" stroke="#666" stroke-width="0.9"/>
<line x1="288.85" y1="226.5" x2="288.85" y2="223.0" stroke="#999" stroke-width="0.9"/>
<line x1="305.00" y1="18.5" x2="305.00" y2="22.0" stroke="#666" stroke-width="0.9"/>
<line x1="305.00" y1="226.5" x2="305.00" y2="223.0" stroke="#999" stroke-width="0.9"/>
<line x1="321.15" y1="18.5" x2="321.15" y2="22.0" stroke="#666" stroke-width="0.9"/>
<line x1="321.15" y1="226.5" x2="321.15" y2="223.0" stroke="#999" stroke-width="0.9"/>
<line x1="337.30" y1="18.5" x2="337.30" y2="22.0" stroke="#666" stroke-width="0.9"/>
<line x1="337.30" y1="226.5" x2="337.30" y2="223.0" stroke="#999" stroke-width="0.9"/>
<line x1="353.45" y1="18.5" x2="353.45" y2="22.0" stroke="#666" stroke-width="0.9"/>
<line x1="353.45" y1="226.5" x2="353.45" y2="223.0" stroke="#999" stroke-width="0.9"/>
<text x="38.8" y="230.30" font-family='"Liberation Sans", sans-serif' font-size="10.5" text-anchor="end" fill="#141414">0.1</text>
<text x="38.8" y="204.30" font-family='"Liberation Sans", sans-serif' font-size="10.5" text-anchor="end" fill="#141414">0.11</text>
<text x="38.8" y="178.30" font-family='"Liberation Sans", sans-serif' font-size="10.5" text-anchor="end" fill="#141414">0.12</text>
<text x="38.8" y="152.30" font-family='"Liberation Sans", sans-serif' font-size="10.5" text-anchor="end" fill="#141414">0.13</text>
<text x="38.8" y="126.30" font-family='"Liberation Sans", sans-serif' font-size="10.5" text-anchor="end" fill="#141414">0.14</text>
<text x="38.8" y="100.30" font-family='"Liberation Sans", sans-serif' font-size="10.5" text-anchor="end" fill="#141414">0.15</text>
<text x="38.8" y="74.30" font-family='"Liberation Sans", sans-serif' font-size="10.5" text-anchor="end" fill="#141414">0.16</text>
<text x="38.8" y="48.30" font-family='"Liberation Sans", sans-serif' font-size="10.5" text-anchor="end" fill="#141414">0.17</text>
<text x="38.8" y="22.30" font-family='"Liberation Sans", sans-serif' font-size="10.5" text-anchor="end" fill="#141414">0.18</text>
<text transform="translate(53.20,237.8) rotate(-45)" font-family='"Liberation Sans", sans-serif' font-size="10.5" text-anchor="end" fill="#141414">01-2003</text>
<text transform="translate(69.35,237.8) rotate(-45)" font-family='"Liberation Sans", sans-serif' font-size="10.5" text-anchor="end" fill="#141414">01-2004</text>
<text transform="translate(85.50,237.8) rotate(-45)" font-family='"Liberation Sans", sans-serif' font-size="10.5" text-anchor="end" fill="#141414">01-2005</text>
<text transform="translate(101.65,237.8) rotate(-45)" font-family='"Liberation Sans", sans-serif' font-size="10.5" text-anchor="end" fill="#141414">01-2006</text>
<text transform="translate(117.80,237.8) rotate(-45)" font-family='"Liberation Sans", sans-serif' font-size="10.5" text-anchor="end" fill="#141414">01-2007</text>
<text transform="translate(133.95,237.8) rotate(-45)" font-family='"Liberation Sans", sans-serif' font-size="10.5" text-anchor="end" fill="#141414">01-2008</text>
<text transform="translate(150.10,237.8) rotate(-45)" font-family='"Liberation Sans", sans-serif' font-size="10.5" text-anchor="end" fill="#141414">01-2009</text>
<text transform="translate(166.25,237.8) rotate(-45)" font-family='"Liberation Sans", sans-serif' font-size="10.5" text-anchor="end" fill="#141414">01-2010</text>
<text transform="translate(182.40,237.8) rotate(-45)" font-family='"Liberation Sans", sans-serif' font-size="10.5" text-anchor="end" fill="#141414">01-2011</text>
<text transform="translate(198.55,237.8) rotate(-45)" font-family='"Liberation Sans", sans-serif' font-size="10.5" text-anchor="end" fill="#141414">01-2012</text>
<text transform="translate(214.70,237.8) rotate(-45)" font-family='"Liberation Sans", sans-serif' font-size="10.5" text-anchor="end" fill="#141414">01-2013</text>
<text transform="translate(230.85,237.8) rotate(-45)" font-family='"Liberation Sans", sans-serif' font-size="10.5" text-anchor="end" fill="#141414">01-2014</text>
<text transform="translate(247.00,237.8) rotate(-45)" font-family='"Liberation Sans", sans-serif' font-size="10.5" text-anchor="end" fill="#141414">01-2015</text>
<text transform="translate(263.15,237.8) rotate(-45)" font-family='"Liberation Sans", sans-serif' font-size="10.5" text-anchor="end" fill="#141414">01-2016</text>
<text transform="translate(279.30,237.8) rotate(-45)" font-family='"Liberation Sans", sans-serif' font-size="10.5" text-anchor="end" fill="#141414">01-2017</text>
<text transform="translate(295.45,237.8) rotate(-45)" font-family='"Liberation Sans", sans-serif' font-size="10.5" text-anchor="end" fill="#141414">01-2018</text>
<text transform="translate(311.60,237.8) rotate(-45)" font-family='"Liberation Sans", sans-serif' font-size="10.5" text-anchor="end" fill="#141414">01-2019</text>
<text transform="translate(327.75,237.8) rotate(-45)" font-family='"Liberation Sans", sans-serif' font-size="10.5" text-anchor="end" fill="#141414">01-2020</text>
<text transform="translate(343.90,237.8) rotate(-45)" font-family='"Liberation Sans", sans-serif' font-size="10.5" text-anchor="end" fill="#141414">01-2021</text>
<text transform="translate(360.05,237.8) rotate(-45)" font-family='"Liberation Sans", sans-serif' font-size="10.5" text-anchor="end" fill="#141414">01-2022</text>
<text transform="translate(374.40,237.8) rotate(-45)" font-family='"Liberation Sans", sans-serif' font-size="10.5" text-anchor="end" fill="#141414">12-2022</text>
<text x="44.1" y="11.2" font-family='"Liberation Sans", sans-serif' font-size="14.6" letter-spacing="0.8" fill="#000">(a)</text>
<text x="273" y="48.5" font-family='"Liberation Sans", sans-serif' font-size="10.5" fill="#141414"><tspan font-style="italic">R</tspan> = -0.63</text>
<text transform="translate(8.9,193.3) rotate(-90)" font-family='"Liberation Sans", sans-serif' font-size="11.95" fill="#141414">PON<tspan font-size="9.3" dy="4.5">INT(0-50m)-total-area</tspan><tspan dy="-4.5"> (Tg)</tspan></text>
<polyline points="423.50,69.76 427.75,71.44 432.00,73.12 436.25,74.80 440.50,76.47 444.75,78.13 449.00,79.78 453.25,81.43 457.50,83.07 461.75,84.70 466.00,86.32 470.25,87.93 474.50,89.53 478.75,91.12 483.00,92.70 487.25,94.26 491.50,95.81 495.75,97.34 500.00,98.85 504.25,100.35 508.50,101.83 512.75,103.29 517.00,104.72 521.25,106.14 525.50,107.52 529.75,108.89 534.00,110.23 538.25,111.54 542.50,112.83 546.75,114.08 551.00,115.31 555.25,116.51 559.50,117.68 563.75,118.83 568.00,119.95 572.25,121.04 576.50,122.10 580.75,123.14 585.00,124.16 589.25,125.15 593.50,126.12 597.75,127.07 602.00,128.01 606.25,128.92 610.50,129.82 614.75,130.70 619.00,131.57 623.25,132.42 627.50,133.26 631.75,134.09 636.00,134.91 640.25,135.72 644.50,136.52 648.75,137.31 653.00,138.09 657.25,138.86 661.50,139.63 665.75,140.39 670.00,141.15 674.25,141.89 678.50,142.64" fill="none" stroke="#0a72c2" stroke-width="1.4" stroke-dasharray="1.1,1.1"/>
<polyline points="423.50,110.98 427.75,111.73 432.00,112.48 436.25,113.23 440.50,113.99 444.75,114.76 449.00,115.53 453.25,116.32 457.50,117.11 461.75,117.91 466.00,118.71 470.25,119.53 474.50,120.36 478.75,121.20 483.00,122.06 487.25,122.92 491.50,123.80 495.75,124.70 500.00,125.62 504.25,126.55 508.50,127.50 512.75,128.47 517.00,129.47 521.25,130.48 525.50,131.52 529.75,132.59 534.00,133.68 538.25,134.79 542.50,135.94 546.75,137.11 551.00,138.31 555.25,139.54 559.50,140.80 563.75,142.08 568.00,143.39 572.25,144.73 576.50,146.10 580.75,147.49 585.00,148.90 589.25,150.34 593.50,151.79 597.75,153.27 602.00,154.77 606.25,156.28 610.50,157.82 614.75,159.36 619.00,160.92 623.25,162.50 627.50,164.09 631.75,165.69 636.00,167.30 640.25,168.92 644.50,170.55 648.75,172.19 653.00,173.84 657.25,175.49 661.50,177.15 665.75,178.82 670.00,180.50 674.25,182.18 678.50,183.86" fill="none" stroke="#0a72c2" stroke-width="1.4" stroke-dasharray="1.1,1.1"/>
<line x1="423.5" y1="90.37" x2="678.5" y2="163.25" stroke="#000" stroke-width="1.7"/>
<circle cx="423.3" cy="82.9" r="2.8" fill="#0a72c4" stroke="#000" stroke-width="0.8"/>
<circle cx="436.7" cy="97.3" r="2.8" fill="#0a72c4" stroke="#000" stroke-width="0.8"/>
<circle cx="450.2" cy="120.5" r="2.8" fill="#0a72c4" stroke="#000" stroke-width="0.8"/>
<circle cx="463.7" cy="95.1" r="2.8" fill="#0a72c4" stroke="#000" stroke-width="0.8"/>
<circle cx="477" cy="52.75" r="2.8" fill="#0a72c4" stroke="#000" stroke-width="0.8"/>
<circle cx="490.4" cy="116" r="2.8" fill="#0a72c4" stroke="#000" stroke-width="0.8"/>
<circle cx="503.8" cy="118" r="2.8" fill="#0a72c4" stroke="#000" stroke-width="0.8"/>
<circle cx="517.1" cy="162.9" r="2.8" fill="#0a72c4" stroke="#000" stroke-width="0.8"/>
<circle cx="530.6" cy="99.9" r="2.8" fill="#0a72c4" stroke="#000" stroke-width="0.8"/>
<circle cx="544.2" cy="115.8" r="2.8" fill="#0a72c4" stroke="#000" stroke-width="0.8"/>
<circle cx="557.4" cy="166.3" r="2.8" fill="#0a72c4" stroke="#000" stroke-width="0.8"/>
<circle cx="570.8" cy="134.9" r="2.8" fill="#0a72c4" stroke="#000" stroke-width="0.8"/>
<circle cx="584.3" cy="146.7" r="2.8" fill="#0a72c4" stroke="#000" stroke-width="0.8"/>
<circle cx="597.9" cy="146.6" r="2.8" fill="#0a72c4" stroke="#000" stroke-width="0.8"/>
<circle cx="611.3" cy="110.1" r="2.8" fill="#0a72c4" stroke="#000" stroke-width="0.8"/>
<circle cx="625" cy="125.5" r="2.8" fill="#0a72c4" stroke="#000" stroke-width="0.8"/>
<circle cx="638.4" cy="145.7" r="2.8" fill="#0a72c4" stroke="#000" stroke-width="0.8"/>
<circle cx="651.8" cy="160.8" r="2.8" fill="#0a72c4" stroke="#000" stroke-width="0.8"/>
<circle cx="665.2" cy="176.7" r="2.8" fill="#0a72c4" stroke="#000" stroke-width="0.8"/>
<circle cx="678.6" cy="163.3" r="2.8" fill="#0a72c4" stroke="#000" stroke-width="0.8"/>
<line x1="423.0" y1="18.5" x2="679.5" y2="18.5" stroke="#707070" stroke-width="1"/>
<line x1="423.0" y1="228.5" x2="679.5" y2="228.5" stroke="#6a6a6a" stroke-width="1"/>
<line x1="423.5" y1="18.5" x2="423.5" y2="228.5" stroke="#808080" stroke-width="1"/>
<line x1="678.9" y1="18.5" x2="678.9" y2="228.5" stroke="#c0c0c0" stroke-width="1.2"/>
<line x1="423.5" y1="228.50" x2="428.5" y2="228.50" stroke="#666" stroke-width="0.9"/>
<line x1="678.5" y1="228.50" x2="673.5" y2="228.50" stroke="#666" stroke-width="0.9"/>
<text x="419.6" y="232.30" font-family='"Liberation Sans", sans-serif' font-size="10.5" text-anchor="end" fill="#141414">1.3</text>
<line x1="423.5" y1="202.25" x2="428.5" y2="202.25" stroke="#666" stroke-width="0.9"/>
<line x1="678.5" y1="202.25" x2="673.5" y2="202.25" stroke="#666" stroke-width="0.9"/>
<text x="419.6" y="206.05" font-family='"Liberation Sans", sans-serif' font-size="10.5" text-anchor="end" fill="#141414">1.35</text>
<line x1="423.5" y1="176.00" x2="428.5" y2="176.00" stroke="#666" stroke-width="0.9"/>
<line x1="678.5" y1="176.00" x2="673.5" y2="176.00" stroke="#666" stroke-width="0.9"/>
<text x="419.6" y="179.80" font-family='"Liberation Sans", sans-serif' font-size="10.5" text-anchor="end" fill="#141414">1.4</text>
<line x1="423.5" y1="149.75" x2="428.5" y2="149.75" stroke="#666" stroke-width="0.9"/>
<line x1="678.5" y1="149.75" x2="673.5" y2="149.75" stroke="#666" stroke-width="0.9"/>
<text x="419.6" y="153.55" font-family='"Liberation Sans", sans-serif' font-size="10.5" text-anchor="end" fill="#141414">1.45</text>
<line x1="423.5" y1="123.50" x2="428.5" y2="123.50" stroke="#666" stroke-width="0.9"/>
<line x1="678.5" y1="123.50" x2="673.5" y2="123.50" stroke="#666" stroke-width="0.9"/>
<text x="419.6" y="127.30" font-family='"Liberation Sans", sans-serif' font-size="10.5" text-anchor="end" fill="#141414">1.5</text>
<line x1="423.5" y1="97.25" x2="428.5" y2="97.25" stroke="#666" stroke-width="0.9"/>
<line x1="678.5" y1="97.25" x2="673.5" y2="97.25" stroke="#666" stroke-width="0.9"/>
<text x="419.6" y="101.05" font-family='"Liberation Sans", sans-serif' font-size="10.5" text-anchor="end" fill="#141414">1.55</text>
<line x1="423.5" y1="71.00" x2="428.5" y2="71.00" stroke="#666" stroke-width="0.9"/>
<line x1="678.5" y1="71.00" x2="673.5" y2="71.00" stroke="#666" stroke-width="0.9"/>
<text x="419.6" y="74.80" font-family='"Liberation Sans", sans-serif' font-size="10.5" text-anchor="end" fill="#141414">1.6</text>
<line x1="423.5" y1="44.75" x2="428.5" y2="44.75" stroke="#666" stroke-width="0.9"/>
<line x1="678.5" y1="44.75" x2="673.5" y2="44.75" stroke="#666" stroke-width="0.9"/>
<text x="419.6" y="48.55" font-family='"Liberation Sans", sans-serif' font-size="10.5" text-anchor="end" fill="#141414">1.65</text>
<line x1="423.5" y1="18.50" x2="428.5" y2="18.50" stroke="#666" stroke-width="0.9"/>
<line x1="678.5" y1="18.50" x2="673.5" y2="18.50" stroke="#666" stroke-width="0.9"/>
<text x="419.6" y="22.30" font-family='"Liberation Sans", sans-serif' font-size="10.5" text-anchor="end" fill="#141414">1.7</text>
<line x1="423.50" y1="18.5" x2="423.50" y2="23.5" stroke="#8c8c8c" stroke-width="0.9"/>
<line x1="423.50" y1="228.5" x2="423.50" y2="223.5" stroke="#8c8c8c" stroke-width="0.9"/>
<text transform="translate(430.10,239.3) rotate(-45)" font-family='"Liberation Sans", sans-serif' font-size="10.5" text-anchor="end" fill="#141414">01-2003</text>
<line x1="436.92" y1="18.5" x2="436.92" y2="23.5" stroke="#8c8c8c" stroke-width="0.9"/>
<line x1="436.92" y1="228.5" x2="436.92" y2="223.5" stroke="#8c8c8c" stroke-width="0.9"/>
<text transform="translate(443.52,239.3) rotate(-45)" font-family='"Liberation Sans", sans-serif' font-size="10.5" text-anchor="end" fill="#141414">01-2004</text>
<line x1="450.34" y1="18.5" x2="450.34" y2="23.5" stroke="#8c8c8c" stroke-width="0.9"/>
<line x1="450.34" y1="228.5" x2="450.34" y2="223.5" stroke="#8c8c8c" stroke-width="0.9"/>
<text transform="translate(456.94,239.3) rotate(-45)" font-family='"Liberation Sans", sans-serif' font-size="10.5" text-anchor="end" fill="#141414">01-2005</text>
<line x1="463.76" y1="18.5" x2="463.76" y2="23.5" stroke="#8c8c8c" stroke-width="0.9"/>
<line x1="463.76" y1="228.5" x2="463.76" y2="223.5" stroke="#8c8c8c" stroke-width="0.9"/>
<text transform="translate(470.36,239.3) rotate(-45)" font-family='"Liberation Sans", sans-serif' font-size="10.5" text-anchor="end" fill="#141414">01-2006</text>
<line x1="477.18" y1="18.5" x2="477.18" y2="23.5" stroke="#8c8c8c" stroke-width="0.9"/>
<line x1="477.18" y1="228.5" x2="477.18" y2="223.5" stroke="#8c8c8c" stroke-width="0.9"/>
<text transform="translate(483.78,239.3) rotate(-45)" font-family='"Liberation Sans", sans-serif' font-size="10.5" text-anchor="end" fill="#141414">01-2007</text>
<line x1="490.61" y1="18.5" x2="490.61" y2="23.5" stroke="#8c8c8c" stroke-width="0.9"/>
<line x1="490.61" y1="228.5" x2="490.61" y2="223.5" stroke="#8c8c8c" stroke-width="0.9"/>
<text transform="translate(497.21,239.3) rotate(-45)" font-family='"Liberation Sans", sans-serif' font-size="10.5" text-anchor="end" fill="#141414">01-2008</text>
<line x1="504.03" y1="18.5" x2="504.03" y2="23.5" stroke="#8c8c8c" stroke-width="0.9"/>
<line x1="504.03" y1="228.5" x2="504.03" y2="223.5" stroke="#8c8c8c" stroke-width="0.9"/>
<text transform="translate(510.63,239.3) rotate(-45)" font-family='"Liberation Sans", sans-serif' font-size="10.5" text-anchor="end" fill="#141414">01-2009</text>
<line x1="517.45" y1="18.5" x2="517.45" y2="23.5" stroke="#8c8c8c" stroke-width="0.9"/>
<line x1="517.45" y1="228.5" x2="517.45" y2="223.5" stroke="#8c8c8c" stroke-width="0.9"/>
<text transform="translate(524.05,239.3) rotate(-45)" font-family='"Liberation Sans", sans-serif' font-size="10.5" text-anchor="end" fill="#141414">01-2010</text>
<line x1="530.87" y1="18.5" x2="530.87" y2="23.5" stroke="#8c8c8c" stroke-width="0.9"/>
<line x1="530.87" y1="228.5" x2="530.87" y2="223.5" stroke="#8c8c8c" stroke-width="0.9"/>
<text transform="translate(537.47,239.3) rotate(-45)" font-family='"Liberation Sans", sans-serif' font-size="10.5" text-anchor="end" fill="#141414">01-2011</text>
<line x1="544.29" y1="18.5" x2="544.29" y2="23.5" stroke="#8c8c8c" stroke-width="0.9"/>
<line x1="544.29" y1="228.5" x2="544.29" y2="223.5" stroke="#8c8c8c" stroke-width="0.9"/>
<text transform="translate(550.89,239.3) rotate(-45)" font-family='"Liberation Sans", sans-serif' font-size="10.5" text-anchor="end" fill="#141414">01-2012</text>
<line x1="557.71" y1="18.5" x2="557.71" y2="23.5" stroke="#8c8c8c" stroke-width="0.9"/>
<line x1="557.71" y1="228.5" x2="557.71" y2="223.5" stroke="#8c8c8c" stroke-width="0.9"/>
<text transform="translate(564.31,239.3) rotate(-45)" font-family='"Liberation Sans", sans-serif' font-size="10.5" text-anchor="end" fill="#141414">01-2013</text>
<line x1="571.13" y1="18.5" x2="571.13" y2="23.5" stroke="#8c8c8c" stroke-width="0.9"/>
<line x1="571.13" y1="228.5" x2="571.13" y2="223.5" stroke="#8c8c8c" stroke-width="0.9"/>
<text transform="translate(577.73,239.3) rotate(-45)" font-family='"Liberation Sans", sans-serif' font-size="10.5" text-anchor="end" fill="#141414">01-2014</text>
<line x1="584.55" y1="18.5" x2="584.55" y2="23.5" stroke="#8c8c8c" stroke-width="0.9"/>
<line x1="584.55" y1="228.5" x2="584.55" y2="223.5" stroke="#8c8c8c" stroke-width="0.9"/>
<text transform="translate(591.15,239.3) rotate(-45)" font-family='"Liberation Sans", sans-serif' font-size="10.5" text-anchor="end" fill="#141414">01-2015</text>
<line x1="597.97" y1="18.5" x2="597.97" y2="23.5" stroke="#8c8c8c" stroke-width="0.9"/>
<line x1="597.97" y1="228.5" x2="597.97" y2="223.5" stroke="#8c8c8c" stroke-width="0.9"/>
<text transform="translate(604.57,239.3) rotate(-45)" font-family='"Liberation Sans", sans-serif' font-size="10.5" text-anchor="end" fill="#141414">01-2016</text>
<line x1="611.39" y1="18.5" x2="611.39" y2="23.5" stroke="#8c8c8c" stroke-width="0.9"/>
<line x1="611.39" y1="228.5" x2="611.39" y2="223.5" stroke="#8c8c8c" stroke-width="0.9"/>
<text transform="translate(617.99,239.3) rotate(-45)" font-family='"Liberation Sans", sans-serif' font-size="10.5" text-anchor="end" fill="#141414">01-2017</text>
<line x1="624.82" y1="18.5" x2="624.82" y2="23.5" stroke="#8c8c8c" stroke-width="0.9"/>
<line x1="624.82" y1="228.5" x2="624.82" y2="223.5" stroke="#8c8c8c" stroke-width="0.9"/>
<text transform="translate(631.42,239.3) rotate(-45)" font-family='"Liberation Sans", sans-serif' font-size="10.5" text-anchor="end" fill="#141414">01-2018</text>
<line x1="638.24" y1="18.5" x2="638.24" y2="23.5" stroke="#8c8c8c" stroke-width="0.9"/>
<line x1="638.24" y1="228.5" x2="638.24" y2="223.5" stroke="#8c8c8c" stroke-width="0.9"/>
<text transform="translate(644.84,239.3) rotate(-45)" font-family='"Liberation Sans", sans-serif' font-size="10.5" text-anchor="end" fill="#141414">01-2019</text>
<line x1="651.66" y1="18.5" x2="651.66" y2="23.5" stroke="#8c8c8c" stroke-width="0.9"/>
<line x1="651.66" y1="228.5" x2="651.66" y2="223.5" stroke="#8c8c8c" stroke-width="0.9"/>
<text transform="translate(658.26,239.3) rotate(-45)" font-family='"Liberation Sans", sans-serif' font-size="10.5" text-anchor="end" fill="#141414">01-2020</text>
<line x1="665.08" y1="18.5" x2="665.08" y2="23.5" stroke="#8c8c8c" stroke-width="0.9"/>
<line x1="665.08" y1="228.5" x2="665.08" y2="223.5" stroke="#8c8c8c" stroke-width="0.9"/>
<text transform="translate(671.68,239.3) rotate(-45)" font-family='"Liberation Sans", sans-serif' font-size="10.5" text-anchor="end" fill="#141414">01-2021</text>
<line x1="678.50" y1="18.5" x2="678.50" y2="23.5" stroke="#8c8c8c" stroke-width="0.9"/>
<line x1="678.50" y1="228.5" x2="678.50" y2="223.5" stroke="#8c8c8c" stroke-width="0.9"/>
<text transform="translate(685.10,239.3) rotate(-45)" font-family='"Liberation Sans", sans-serif' font-size="10.5" text-anchor="end" fill="#141414">01-2022</text>
<text x="437.1" y="13.5" font-family='"Liberation Sans", sans-serif' font-size="14.4" fill="#000">(b)</text>
<text x="571.5" y="48.9" font-family='"Liberation Sans", sans-serif' font-size="10.7" fill="#141414"><tspan font-style="italic">R</tspan> = -0.71</text>
<text x="571.5" y="59.8" font-family='"Liberation Sans", sans-serif' font-size="10.7" fill="#141414"><tspan font-style="italic">S</tspan> = -0.01 Tg y<tspan font-size="7.8" dx="1.2" dy="-4.9" letter-spacing="1.1">-1</tspan></text>
<text transform="translate(394.7,123.6) rotate(-90)" font-family='"Liberation Sans", sans-serif' font-size="10.5" text-anchor="middle" fill="#141414">Cumulative integration of PON (Tg)</text>
</svg>
</body></html>
